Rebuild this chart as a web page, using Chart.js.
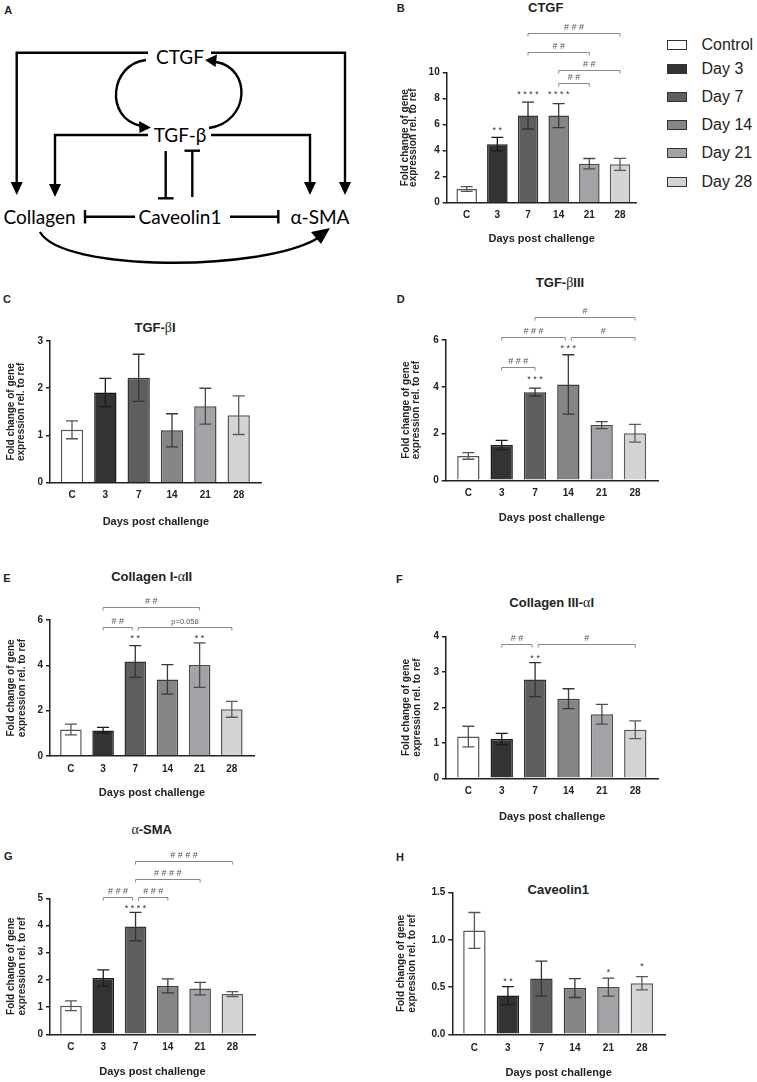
<!DOCTYPE html>
<html>
<head>
<meta charset="utf-8">
<script src="https://cdn.jsdelivr.net/npm/chart.js@4.4.1/dist/chart.umd.min.js"></script>
<style>
    html, body { margin: 0; padding: 0; background: #fff; }
    #fig { position: relative; width: 757px; height: 1082px; overflow: hidden;
           font-family: "Liberation Sans", Arial, sans-serif; color: #222; }
    .abs { position: absolute; white-space: nowrap; transform: translate(-50%, -50%); }
    .letter { font-weight: bold; font-size: 11px; }
    .title { font-weight: bold; font-size: 13px; }
    .g { font-family: "Liberation Serif", "DejaVu Serif", serif; font-weight: normal; font-size: 14px; }
    canvas { position: absolute; }
    .lg-box { position: absolute; width: 20px; height: 10px; border: 1px solid #333; box-sizing: border-box; }
    .lg-txt { position: absolute; font-size: 16px; transform: translateY(-50%); white-space: nowrap; }
</style>
</head>
<body>
<div id="fig">
    <!-- Panel A: pathway diagram -->
    <svg class="diagram" width="380" height="275" style="position:absolute;left:0;top:0"
         font-family="Lato, 'Open Sans', sans-serif" font-size="19">
        <g stroke="#000" stroke-width="2.4" fill="none">
            <polyline points="148,52.7 16.7,52.7 16.7,184"/>
            <polyline points="211,52.7 345,52.7 345,184"/>
            <polyline points="148,135 55,135 55,185"/>
            <polyline points="211,135 310,135 310,184"/>
            <line x1="165.7" y1="151" x2="165.7" y2="198.3"/>
            <line x1="158" y1="198.3" x2="173.5" y2="198.3"/>
            <line x1="192.3" y1="197" x2="192.3" y2="150.7"/>
            <line x1="184.5" y1="150.7" x2="200" y2="150.7"/>
            <line x1="135" y1="216.7" x2="85" y2="216.7"/>
            <line x1="85" y1="210" x2="85" y2="223.5"/>
            <line x1="230" y1="216.7" x2="278.3" y2="216.7"/>
            <line x1="278.3" y1="210" x2="278.3" y2="223.5"/>
            <path d="M146,60 C110,64 104,118 141,126"/>
            <path d="M209,128 C250,122 252,68 216,62"/>
            <path d="M40,232 C62,272 262,272 318,238"/>
        </g>
        <g fill="#000">
            <polygon points="16.7,195 10.7,182 22.7,182"/>
            <polygon points="345,195 339,182 351,182"/>
            <polygon points="55,197 49,184 61,184"/>
            <polygon points="310,195 304,182 316,182"/>
            <polygon points="151,127.5 139,121 139.5,133"/>
            <polygon points="205,60 217,54.5 215.5,67"/>
            <polygon points="330,228 311,232 321,244"/>
        </g>
        <g fill="#000" text-anchor="middle" dominant-baseline="central">
            <text x="180" y="56.7">CTGF</text>
            <text x="180" y="134.3">TGF-β</text>
            <text x="39.5" y="216.7">Collagen</text>
            <text x="180" y="216.7">Caveolin1</text>
            <text x="320" y="216.7">α-SMA</text>
        </g>
    </svg>

    <div class="abs letter" style="left:8.3px;top:10px">A</div>
    <div class="abs letter" style="left:400.7px;top:8.3px">B</div>
    <div class="abs letter" style="left:7px;top:299.3px">C</div>
    <div class="abs letter" style="left:400.7px;top:299.3px">D</div>
    <div class="abs letter" style="left:7px;top:578.3px">E</div>
    <div class="abs letter" style="left:399.3px;top:579.3px">F</div>
    <div class="abs letter" style="left:8.3px;top:856px">G</div>
    <div class="abs letter" style="left:400px;top:856.7px">H</div>

    <div class="abs title" style="left:545.7px;top:7px">CTGF</div>
    <div class="abs title" style="left:155px;top:328px">TGF-<span class="g">β</span>I</div>
    <div class="abs title" style="left:560px;top:283.3px">TGF-<span class="g">β</span>III</div>
    <div class="abs title" style="left:151.7px;top:576.7px">Collagen I-<span class="g">α</span>II</div>
    <div class="abs title" style="left:551.7px;top:602.7px">Collagen III-<span class="g">α</span>I</div>
    <div class="abs title" style="left:151.7px;top:830px"><span class="g">α</span>-SMA</div>
    <div class="abs title" style="left:558.3px;top:889.3px">Caveolin1</div>

    <div id="legend"></div>
</div>

<script>
// categorias y series
const DAYS = ['C', '3', '7', '14', '21', '28'];
const LEGEND_LABELS = ['Control', 'Day 3', 'Day 7', 'Day 14', 'Day 21', 'Day 28'];
const FILLS = ['#ffffff', '#333333', '#5e5e5e', '#858585', '#a3a3a7', '#d4d4d4'];
const EDGES = ['#555555', '#1a1a1a', '#333333', '#3a3a3a', '#4a4a4a', '#5a5a5a'];

const ctgfMean = [1.05, 4.5, 6.7, 6.7, 3.0, 2.95];
const ctgfSem = [0.18, 0.52, 1.03, 0.92, 0.4, 0.46];
const ctgfStars = [[1, 5.67, '**'], [2, 8.46, '****'], [3, 8.46, '****']];
const ctgfPairs = [[2, 5, 13.03, '###'], [2, 4, 11.6, '##'], [3, 5, 10.2, '##'], [3, 4, 9.23, '##']];

const tgfb1Mean = [1.12, 1.91, 2.22, 1.11, 1.62, 1.43];
const tgfb1Sem = [0.19, 0.30, 0.50, 0.35, 0.38, 0.41];

const tgfb3Mean = [1.04, 1.51, 3.77, 4.10, 2.36, 2.01];
const tgfb3Sem = [0.14, 0.20, 0.17, 1.27, 0.15, 0.38];
const tgfb3Stars = [[2, 4.4, '***'], [3, 5.74, '***']];
const tgfb3Pairs = [[1, 2, 4.83, '###'], [1, 3, 6.11, '###'], [3, 5, 6.11, '#'], [2, 5, 6.97, '#']];

const col1Mean = [1.17, 1.13, 4.17, 3.38, 4.01, 2.06];
const col1Sem = [0.24, 0.13, 0.70, 0.65, 0.98, 0.35];
const col1Stars = [[2, 5.26, '**'], [4, 5.26, '**']];
const col1Pairs = [[1, 4, 6.59, '##'], [1, 2, 5.71, '##'], [2, 5, 5.71, 'p=0.058']];

const col3Mean = [1.18, 1.11, 2.79, 2.25, 1.81, 1.37];
const col3Sem = [0.29, 0.16, 0.48, 0.28, 0.28, 0.25];
const col3Stars = [[2, 3.45, '**']];
const col3Pairs = [[1, 2, 3.79, '##'], [2, 5, 3.79, '#']];

const smaMean = [1.05, 2.07, 3.96, 1.78, 1.68, 1.48];
const smaSem = [0.18, 0.30, 0.52, 0.26, 0.23, 0.09];
const smaStars = [[2, 4.69, '****']];
const smaPairs = [[2, 5, 6.37, '####'], [2, 4, 5.71, '####'], [1, 2, 5.06, '###'], [2, 3, 5.06, '###']];

const cavMean = [1.10, 0.41, 0.59, 0.49, 0.50, 0.54];
const cavSem = [0.19, 0.095, 0.185, 0.10, 0.095, 0.07];
const cavStars = [[1, 0.58, '**'], [4, 0.68, '*'], [5, 0.74, '*']];

const Y_TITLE = ['Fold change of gene', 'expression rel. to ref'];
const X_TITLE = 'Days post challenge';
const FONT = '"Liberation Sans", Arial, sans-serif';

// leyenda (HTML)
const LEGEND_Y = [44.5, 68.7, 96.7, 125.2, 153.3, 181.8];
const legend = document.getElementById('legend');
LEGEND_LABELS.forEach((label, i) => {
    legend.innerHTML += `<div class="lg-box" style="left:666.7px;top:${LEGEND_Y[i] - 5}px;background:${FILLS[i]}"></div>` +
        `<div class="lg-txt" style="left:701.5px;top:${LEGEND_Y[i]}px">${label}</div>`;
});

// barras de error (media +/- SEM)
const errorBarPlugin = {
    id: 'errorBars',
    afterDatasetsDraw(chart, args, opts) {
        const ctx = chart.ctx;
        const y = chart.scales.y;
        const ds = chart.data.datasets[0];
        ctx.save();
        ctx.lineWidth = 1.3;
        chart.getDatasetMeta(0).data.forEach((bar, i) => {
            const v = ds.data[i].y, e = opts.sem[i];
            const yTop = y.getPixelForValue(v + e);
            const yBot = y.getPixelForValue(v - e);
            ctx.strokeStyle = EDGES[i];
            ctx.beginPath();
            ctx.moveTo(bar.x, yTop); ctx.lineTo(bar.x, yBot);
            ctx.moveTo(bar.x - 6, yTop); ctx.lineTo(bar.x + 6, yTop);
            ctx.moveTo(bar.x - 6, yBot); ctx.lineTo(bar.x + 6, yBot);
            ctx.stroke();
        });
        ctx.restore();
    }
};

// asteriscos y corchetes de significancia
function spaced(t) {
    return t.startsWith('p=') ? t : t.split('').join(' ');
}
const sigPlugin = {
    id: 'sig',
    afterDraw(chart, args, opts) {
        const ctx = chart.ctx;
        const {x, y} = chart.scales;
        ctx.save();
        ctx.textAlign = 'center';
        ctx.textBaseline = 'middle';
        ctx.fillStyle = '#333';
        ctx.font = '9px ' + FONT;
        (opts.stars || []).forEach(([i, v, t]) => {
            ctx.fillText(spaced(t), x.getPixelForValue(i), y.getPixelForValue(v) + 2);
        });
        const pairs = opts.pairs || [];
        pairs.forEach(p => {
            const [a, b, v, t] = p;
            let x1 = x.getPixelForValue(a), x2 = x.getPixelForValue(b);
            if (pairs.some(q => q !== p && q[2] === v && q[1] === a)) x1 += 3;
            if (pairs.some(q => q !== p && q[2] === v && q[0] === b)) x2 -= 3;
            const yy = Math.round(y.getPixelForValue(v)) + 0.5;
            ctx.strokeStyle = '#888';
            ctx.lineWidth = 1;
            ctx.beginPath();
            ctx.moveTo(x1, yy + 3); ctx.lineTo(x1, yy); ctx.lineTo(x2, yy); ctx.lineTo(x2, yy + 3);
            ctx.stroke();
            ctx.fillStyle = '#555';
            ctx.font = (t.startsWith('p=') ? '7.5px ' : '9px ') + FONT;
            ctx.fillText(spaced(t), (x1 + x2) / 2, yy - 6);
        });
        ctx.restore();
    }
};

function makePanel(p) {
    const a = p.area;
    const lh = p.yTitleLH;
    const Wy = a.l - (p.yTitleX - lh / 2);
    const xTitleLH = 13.2;
    const Hx = p.xTitleY + xTitleLH / 2 - a.b;

    const left = Math.floor(a.l - Wy - 4);
    const top = Math.floor(a.t - 90);
    const W = Math.ceil(a.r + 10 - left);
    const H = Math.ceil(a.b + Hx + 4 - top);
    const pad = {
        left: a.l - Wy - left,
        top: a.t - top,
        right: left + W - a.r,
        bottom: top + H - a.b - Hx
    };

    const canvas = document.createElement('canvas');
    canvas.width = W;
    canvas.height = H;
    canvas.style.left = left + 'px';
    canvas.style.top = top + 'px';
    document.getElementById('fig').appendChild(canvas);

    new Chart(canvas, {
        type: 'bar',
        data: {
            datasets: [{
                data: p.mean.map((v, i) => ({x: i, y: v})),
                backgroundColor: FILLS,
                borderColor: EDGES,
                borderWidth: 1.5,
                barPercentage: 0.67,
                categoryPercentage: 1,
            }]
        },
        options: {
            responsive: false,
            animation: false,
            devicePixelRatio: 1,
            layout: { padding: pad },
            plugins: {
                legend: { display: false },
                tooltip: { enabled: false },
                errorBars: { sem: p.sem },
                sig: { stars: p.stars, pairs: p.pairs },
            },
            scales: {
                x: {
                    type: 'linear',
                    min: p.xMin,
                    max: p.xMax,
                    offset: false,
                    grid: { display: false, drawTicks: false, offset: false },
                    border: { display: true, color: '#222', width: 1.5 },
                    afterBuildTicks: s => { s.ticks = DAYS.map((d, i) => ({value: i})); },
                    ticks: {
                        autoSkip: false,
                        maxRotation: 0,
                        padding: p.xTickY - a.b - 6,
                        color: '#222',
                        font: { family: FONT, size: 10, weight: 'bold' },
                        callback: v => DAYS[v] ?? '',
                    },
                    title: {
                        display: true, text: X_TITLE, color: '#222', padding: 0,
                        font: { family: FONT, size: 11, weight: 'bold' }
                    },
                    afterFit: s => { s.height = Hx; },
                },
                y: {
                    min: 0,
                    max: p.yMax,
                    grid: { display: true, drawOnChartArea: false, drawTicks: true, tickLength: 4, color: '#222', lineWidth: 1.5 },
                    border: { display: true, color: '#222', width: 1.5 },
                    ticks: {
                        stepSize: p.yStep,
                        padding: 3,
                        color: '#222',
                        font: { family: FONT, size: 10, weight: 'bold' },
                        callback: v => p.yStep < 1 ? v.toFixed(1) : v,
                    },
                    title: {
                        display: true, text: Y_TITLE, color: '#222', padding: 0,
                        font: { family: FONT, size: 10, weight: 'bold', lineHeight: lh + 'px' }
                    },
                    afterFit: s => { s.width = Wy; },
                }
            }
        },
        plugins: [errorBarPlugin, sigPlugin]
    });
}

makePanel({ mean: ctgfMean, sem: ctgfSem, stars: ctgfStars, pairs: ctgfPairs, yMax: 10, yStep: 2,
    area: {l: 446.7, t: 72.7, r: 636.7, b: 202.7}, xMin: -0.652, xMax: 5.545,
    yTitleX: 405, yTitleLH: 8.5, xTickY: 215, xTitleY: 239 });
makePanel({ mean: tgfb1Mean, sem: tgfb1Sem, stars: [], pairs: [], yMax: 3, yStep: 1,
    area: {l: 50, t: 341, r: 261.7, b: 482.7}, xMin: -0.66, xMax: 5.69,
    yTitleX: 11.7, yTitleLH: 10, xTickY: 495.3, xTitleY: 521.7 });
makePanel({ mean: tgfb3Mean, sem: tgfb3Sem, stars: tgfb3Stars, pairs: tgfb3Pairs, yMax: 6, yStep: 2,
    area: {l: 445.7, t: 340, r: 658.3, b: 480.3}, xMin: -0.68, xMax: 5.7,
    yTitleX: 406.7, yTitleLH: 10, xTickY: 493.3, xTitleY: 518.3 });
makePanel({ mean: col1Mean, sem: col1Sem, stars: col1Stars, pairs: col1Pairs, yMax: 6, yStep: 2,
    area: {l: 50, t: 620, r: 254, b: 756}, xMin: -0.65, xMax: 5.69,
    yTitleX: 11.7, yTitleLH: 11, xTickY: 769.3, xTitleY: 793.3 });
makePanel({ mean: col3Mean, sem: col3Sem, stars: col3Stars, pairs: col3Pairs, yMax: 4, yStep: 1,
    area: {l: 446, t: 636.7, r: 658.3, b: 778.3}, xMin: -0.67, xMax: 5.69,
    yTitleX: 406.7, yTitleLH: 10.6, xTickY: 791.7, xTitleY: 816.7 });
makePanel({ mean: smaMean, sem: smaSem, stars: smaStars, pairs: smaPairs, yMax: 5, yStep: 1,
    area: {l: 50, t: 898.3, r: 255, b: 1034.3}, xMin: -0.65, xMax: 5.7,
    yTitleX: 11.7, yTitleLH: 11, xTickY: 1047.3, xTitleY: 1071.7 });
makePanel({ mean: cavMean, sem: cavSem, stars: cavStars, pairs: [], yMax: 1.5, yStep: 0.5,
    area: {l: 452.3, t: 892.7, r: 665, b: 1034.3}, xMin: -0.66, xMax: 5.69,
    yTitleX: 401.7, yTitleLH: 10.6, xTickY: 1048.3, xTitleY: 1073.3 });
</script>
</body>
</html>
